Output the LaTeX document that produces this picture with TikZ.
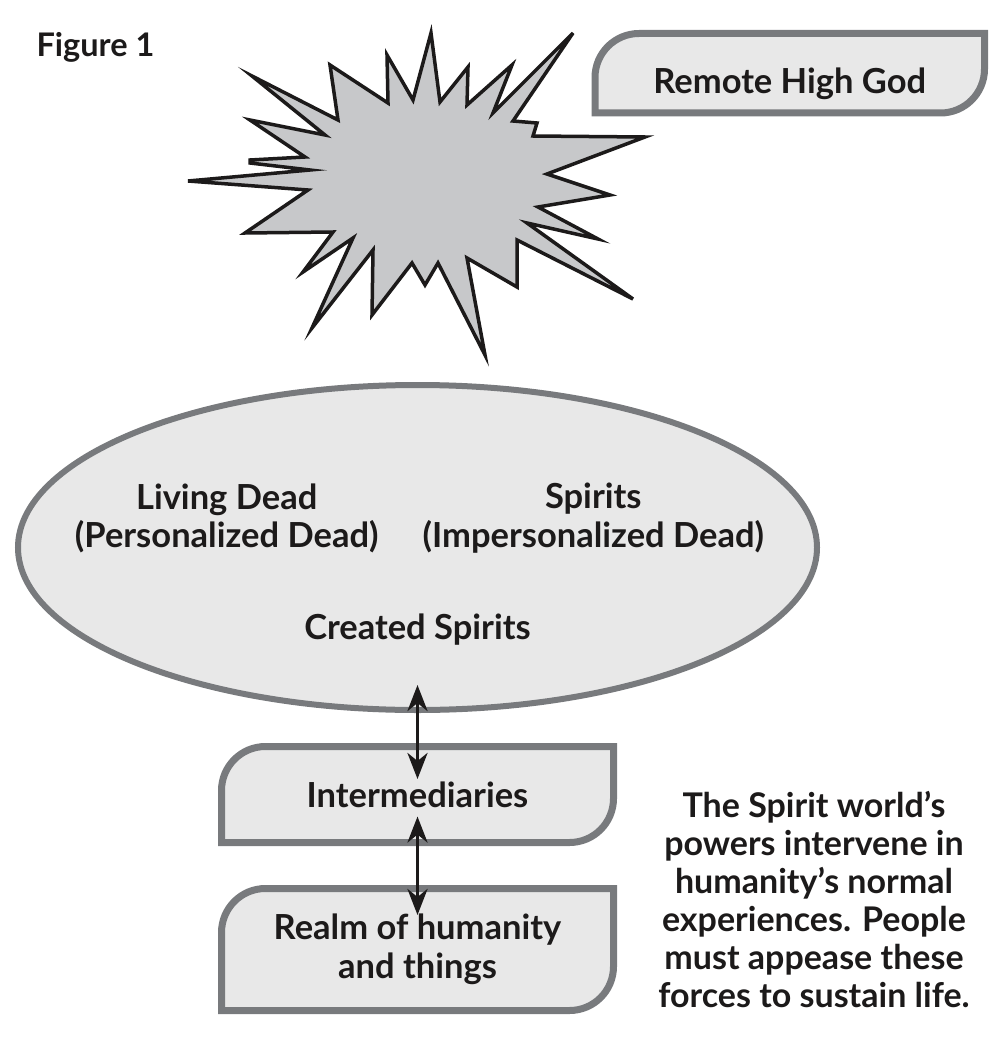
\documentclass[tikz,border=0pt]{standalone}
\usepackage{fontspec}
\setmainfont{Lato}
\usetikzlibrary{shapes.geometric, arrows.meta, backgrounds}
\definecolor{edgegray}{HTML}{787A7D}
\definecolor{boxfill}{HTML}{E8E8E8}
\definecolor{burstfill}{HTML}{C7C8CA}
\definecolor{inkblack}{HTML}{1C1A1A}
% tab shaped outline round a node: top left and bottom right rounded
\newcommand{\taboutline}[1]{%
  \draw[draw=edgegray, line width=7pt, fill=boxfill]
    (#1.south west) -- ([yshift=-44pt]#1.north west)
    arc[start angle=180, end angle=90, radius=44pt]
    -- (#1.north east) -- ([yshift=44pt]#1.south east)
    arc[start angle=0, end angle=-90, radius=44pt] -- cycle;}
\begin{document}
\begin{tikzpicture}[x=1pt, y=-1pt, text=inkblack,
    font=\fontsize{34.5}{38.7}\selectfont\bfseries,
    tabbox/.style={minimum width=392pt, inner sep=0pt, outer sep=0pt, align=center},
    twoway/.style={{Stealth[length=26pt,width=20pt,inset=8pt]}-{Stealth[length=26pt,width=20pt,inset=8pt]},
      draw=inkblack, line width=3.8pt}]
    \useasboundingbox (0,0) rectangle (1000,1038);

    \node (figlabel) [anchor=base west, font=\fontsize{32.5}{38}\selectfont\bfseries]
      at (33,56.7) {Figure 1};

    % the high god, far away
    \draw[fill=burstfill, draw=inkblack, line width=3.5pt]
      (188,181) -- (308,190) -- (245,233) -- (333,232) -- (303,272) -- (353,238)
      -- (312,328) -- (373,250) -- (372,315) -- (412,263) -- (425,285) -- (438,263)
      -- (485,355) -- (467,258) -- (517,287) -- (517,240) -- (633,299) -- (527,223)
      -- (598,239) -- (538,207) -- (610,195) -- (547,174) -- (645,137) -- (533,136)
      -- (537,123) -- (513,121) -- (573,33) -- (493,113) -- (512,65) -- (467,105)
      -- (468,67) -- (440,102) -- (431,33) -- (413,100) -- (387,55) -- (388,103)
      -- (330,65) -- (338,120) -- (252,76) -- (325,135) -- (250,120) -- (305,157)
      -- (250,160) -- (250,163) -- (310,170) -- cycle;

    \node (god) [tabbox, minimum width=389.5pt, minimum height=79.5pt,
      text height=40pt, text depth=0pt] at (789.75,73.25) {Remote High God};

    % spirit world
    \node (spiritworld) [ellipse, draw=edgegray, line width=6pt, fill=boxfill,
      minimum width=799pt, minimum height=325pt, inner sep=0pt, outer sep=0pt]
      at (417.5,547.5) {};
    \node (living) [align=center] at (226.7,518.4) {Living Dead\\(Personalized Dead)};
    \node (spirits) [align=center] at (593.3,518.4) {Spirits\\(Impersonalized Dead)};
    \node (created) [anchor=base] at (417.5,639) {Created Spirits};

    \node (inter) [tabbox, minimum height=96pt] at (417.5,794.5) {Intermediaries};
    \node (realm) [tabbox, minimum height=122pt] at (417.5,949.5) {Realm of humanity\\and things};
    \begin{pgfonlayer}{background}
      \taboutline{god}
      \taboutline{inter}
      \taboutline{realm}
    \end{pgfonlayer}

    \draw[twoway] ([yshift=25pt]spiritworld.south) -- ([yshift=-32.5pt]inter.north);
    \draw[twoway] ([yshift=26pt]inter.south) -- ([yshift=-26.5pt]realm.north);

    \node (note) [align=center, font=\fontsize{34}{38}\selectfont\bfseries] at (814,899.5)
      {The Spirit world’s\\powers intervene in\\humanity’s normal\\experiences. People\\must appease these\\forces to sustain life.};
\end{tikzpicture}
\end{document}
